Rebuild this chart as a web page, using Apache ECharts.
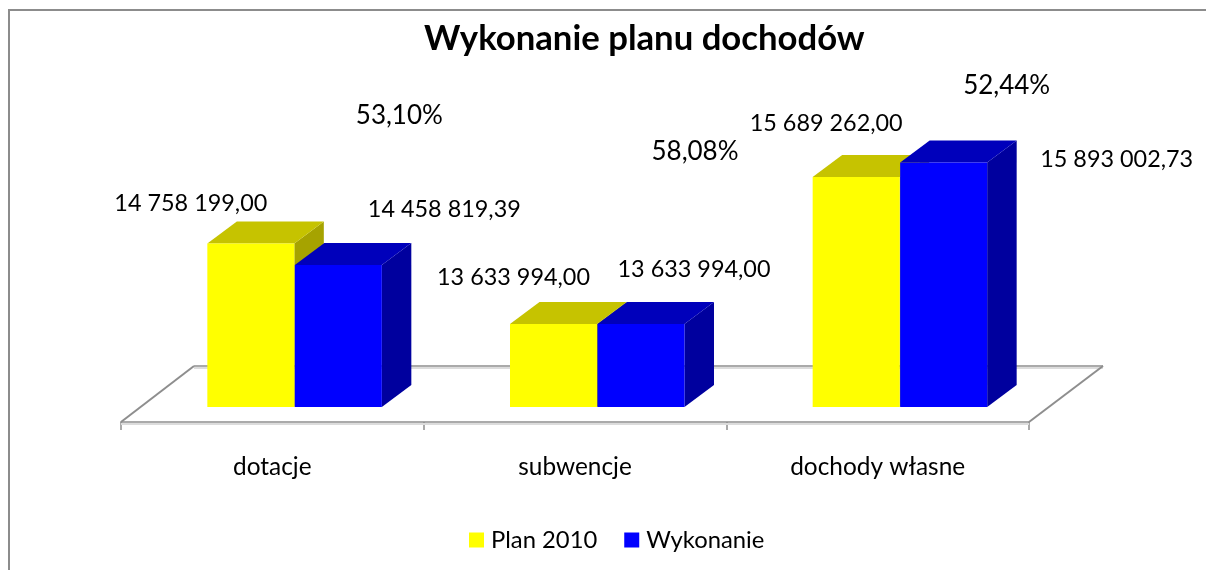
<!DOCTYPE html>
<html><head><meta charset="utf-8">
<style>html,body{margin:0;padding:0;background:#fff}#c{width:1206px;height:570px}</style>
<script src="https://cdn.jsdelivr.net/npm/echarts@6/dist/echarts.min.js"></script>
</head><body><div id="c"></div>
<script>
const categories = ['dotacje', 'subwencje', 'dochody własne'];
const planValues = [14758199.00, 13633994.00, 15689262.00];
const doneValues = [14458819.39, 13633994.00, 15893002.73];
const percentLabels = ['53,10%', '58,08%', '52,44%'];
const seriesNames = ['Plan 2010', 'Wykonanie'];

const FONT = 'Lato, "Open Sans", sans-serif';
const AXIS_MIN = 12263000, AXIS_MAX = 16669000, BAR_BASE = 12473000;
const BAR_W = 87, DX = 29.5, DY = 22;
const fmt = v => {
  const [a, b] = v.toFixed(2).split('.');
  return a.replace(/\B(?=(\d{3})+(?!\d))/g, ' ') + ',' + b;
};
const planOffset = [[-60, -40], [-40, -47], [-30, -54]];
const doneOffset = [[106, -56], [53, -55], [173, -3]];
const pctOffset = [[127, -128], [120, -172], [129, -91]];

function barSeries(name, values, front, top, side, shift, offs) {
  return {
    name, type: 'custom', coordinateSystem: 'cartesian2d', z: 3,
    itemStyle: { color: front },
    data: values.map((v, i) => [i, v]),
    encode: { x: 0, y: 1 },
    renderItem(params, api) {
      const i = api.value(0);
      const p = api.coord([i, api.value(1)]);
      const b = api.coord([i, BAR_BASE]);
      const x0 = p[0] + shift, x1 = x0 + BAR_W, yt = p[1], yb = b[1];
      const poly = (pts, fill) => ({ type: 'polygon', shape: { points: pts }, style: { fill, stroke: null } });
      const o = offs[i];
      return { type: 'group', children: [
        poly([[x1, yt], [x1 + DX, yt - DY], [x1 + DX, yb - DY], [x1, yb]], side),
        poly([[x0, yt], [x0 + DX, yt - DY], [x1 + DX, yt - DY], [x1, yt]], top),
        { type: 'rect', shape: { x: x0, y: yt, width: BAR_W, height: yb - yt }, style: { fill: front, stroke: null } },
        { type: 'text', z2: 50, style: { x: x0 + BAR_W / 2 + o[0], y: yt + o[1], text: fmt(api.value(1)), fill: '#000',
          font: '23.4px ' + FONT, textAlign: 'center', textVerticalAlign: 'middle' } }
      ] };
    }
  };
}

const floorSeries = {
  type: 'custom', coordinateSystem: 'cartesian2d', z: 1, silent: true,
  data: [[0, AXIS_MIN]], encode: { x: 0, y: 1 },
  renderItem(params) {
    const g = params.coordSys, L = g.x, R = g.x + g.width, B = g.y + g.height;
    const seg = (pts, color, w) => ({ type: 'polyline', shape: { points: pts }, style: { fill: null, stroke: color, lineWidth: w } });
    const back = B - 56;
    return { type: 'group', children: [
      seg([[L + 73, back + 2], [R + 74, back + 2]], '#dcdcdc', 2),
      seg([[L, B + 2], [R, B + 2]], '#dcdcdc', 2),
      seg([[L + 73, back], [R + 74, back]], '#8e8e8e', 1.5),
      seg([[L, B], [L + 73, back]], '#8e8e8e', 2),
      seg([[R, B], [R + 74, back]], '#8e8e8e', 2)
    ] };
  }
};

const pctSeries = {
  type: 'custom', coordinateSystem: 'cartesian2d', z: 5, silent: true,
  data: planValues.map((v, i) => [i, v]), encode: { x: 0, y: 1 },
  renderItem(params, api) {
    const i = api.value(0), p = api.coord([i, api.value(1)]), o = pctOffset[i];
    return { type: 'text', style: { x: p[0] + o[0], y: p[1] + o[1], text: percentLabels[i], fill: '#000',
      font: '26px ' + FONT, textAlign: 'center', textVerticalAlign: 'middle' } };
  }
};

const chart = echarts.init(document.getElementById('c'), null, { renderer: 'canvas' });
chart.setOption({
  animation: false,
  backgroundColor: '#fff',
  title: { text: 'Wykonanie planu dochodów', left: 419, top: 16,
    textStyle: { fontFamily: FONT, fontWeight: 'bold', fontSize: 34.7, color: '#000' } },
  legend: { data: seriesNames, left: 464, top: 523, icon: 'rect', itemWidth: 15, itemHeight: 15, itemGap: 27,
    textStyle: { fontFamily: FONT, fontSize: 23.8, color: '#000', padding: [0, 0, 0, 2] } },
  grid: { left: 121, right: 177, top: 107, bottom: 148 },
  xAxis: { type: 'category', data: categories, boundaryGap: true,
    axisLine: { lineStyle: { color: '#8e8e8e', width: 1.5 } },
    axisTick: { show: true, length: 8, lineStyle: { color: '#8e8e8e', width: 1.5 } },
    axisLabel: { margin: 33, fontFamily: FONT, fontSize: 24.4, color: '#000' } },
  yAxis: { type: 'value', min: AXIS_MIN, max: AXIS_MAX, show: false, splitLine: { show: false } },
  series: [
    floorSeries,
    barSeries(seriesNames[0], planValues, '#ffff00', '#c6c300', '#a6a300', -65, planOffset),
    barSeries(seriesNames[1], doneValues, '#0000ff', '#0000bb', '#00009e', 22.5, doneOffset),
    pctSeries
  ],
  graphic: [{ type: 'polyline', silent: true, shape: { points: [[9, 570], [9, 10], [1206, 10]] },
    style: { fill: null, stroke: '#8c8c8c', lineWidth: 2 } }]
});
</script></body></html>
